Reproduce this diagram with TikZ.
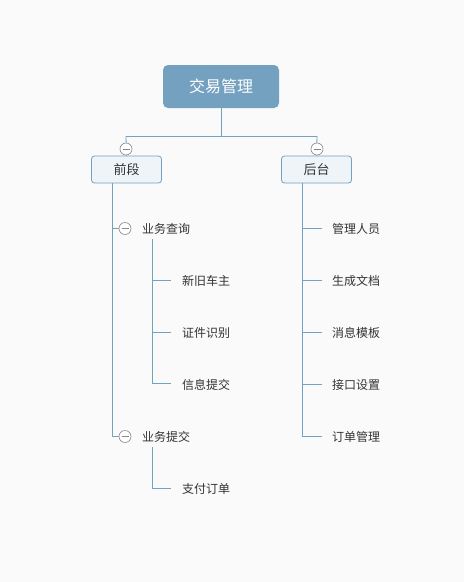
\documentclass[tikz,border=0pt]{standalone}
\usepackage{fontspec}
\newfontfamily\cjk{Noto Sans CJK SC}
\definecolor{bg}{HTML}{FAFAFA}
\definecolor{edge}{HTML}{73A1BF}
\definecolor{boxfill}{HTML}{EEF4F8}
\definecolor{txt}{HTML}{333333}
\definecolor{knob}{HTML}{888888}
\begin{document}
\begin{tikzpicture}[x=1pt,y=-1pt,
  conn/.style={draw=edge, line width=0.8pt},
  rootbox/.style={fill=edge, rounded corners=5pt, minimum width=116pt, minimum height=43pt, text=white, font=\cjk\fontsize{16}{19}\selectfont, inner sep=0pt},
  midbox/.style={draw=edge, fill=boxfill, rounded corners=3pt, minimum width=70pt, minimum height=27pt, text=txt, font=\cjk\fontsize{13}{16}\selectfont, inner sep=0pt, line width=0.8pt},
  leaf/.style={anchor=west, text=txt, font=\cjk\fontsize{12}{14}\selectfont, inner sep=0pt},
  knobc/.style={circle, draw=knob, fill=white, minimum size=12pt, inner sep=0pt, line width=0.6pt,
    path picture={\draw[knob, line width=0.6pt] ([xshift=-3.5pt]path picture bounding box.center) -- ([xshift=3.5pt]path picture bounding box.center);}}
]
\fill[bg] (0,0) rectangle (464,582);
\useasboundingbox (0,0) rectangle (464,582);

\node[rootbox] (root) at (221,86.5) {交易管理};
\node[midbox] (front) at (126.5,169.5) {前段};
\node[midbox] (back) at (316.5,169.5) {后台};

\coordinate (j) at (221,136);
\draw[conn] (root.south) -- (j);
\draw[conn] (126,136) -- (317,136);
\draw[conn] (126,136) -- (front.north);
\draw[conn] (317,136) -- (back.north);
\node[knobc] (kf) at (126,149) {};
\node[knobc] (kb) at (317,149) {};

% front side
\node[knobc] (k1) at (125,228.5) {};
\node[knobc] (k2) at (125,436.5) {};
\node[leaf] (q) at (142,229) {业务查询};
\node[leaf] (s) at (142,437) {业务提交};
\draw[conn] (front.south -| 112,0) |- (k2.west);
\draw[conn] (112,228.5) -- (k1.west);

\node[leaf] (a1) at (182,281) {新旧车主};
\node[leaf] (a2) at (182,333) {证件识别};
\node[leaf] (a3) at (182,385) {信息提交};
\node[leaf] (b1) at (182,489) {支付订单};
\draw[conn] (152,239) |- (171,383);
\draw[conn] (152,280) -- (171,280);
\draw[conn] (152,332) -- (171,332);
\draw[conn] (152,447) |- (171,488);

% back side
\node[leaf] (c1) at (332,229) {管理人员};
\node[leaf] (c2) at (332,281) {生成文档};
\node[leaf] (c3) at (332,333) {消息模板};
\node[leaf] (c4) at (332,385) {接口设置};
\node[leaf] (c5) at (332,437) {订单管理};
\draw[conn] (back.south -| 302,0) |- (322,436);
\draw[conn] (302,228) -- (322,228);
\draw[conn] (302,280) -- (322,280);
\draw[conn] (302,332) -- (322,332);
\draw[conn] (302,384) -- (322,384);
\end{tikzpicture}
\end{document}
